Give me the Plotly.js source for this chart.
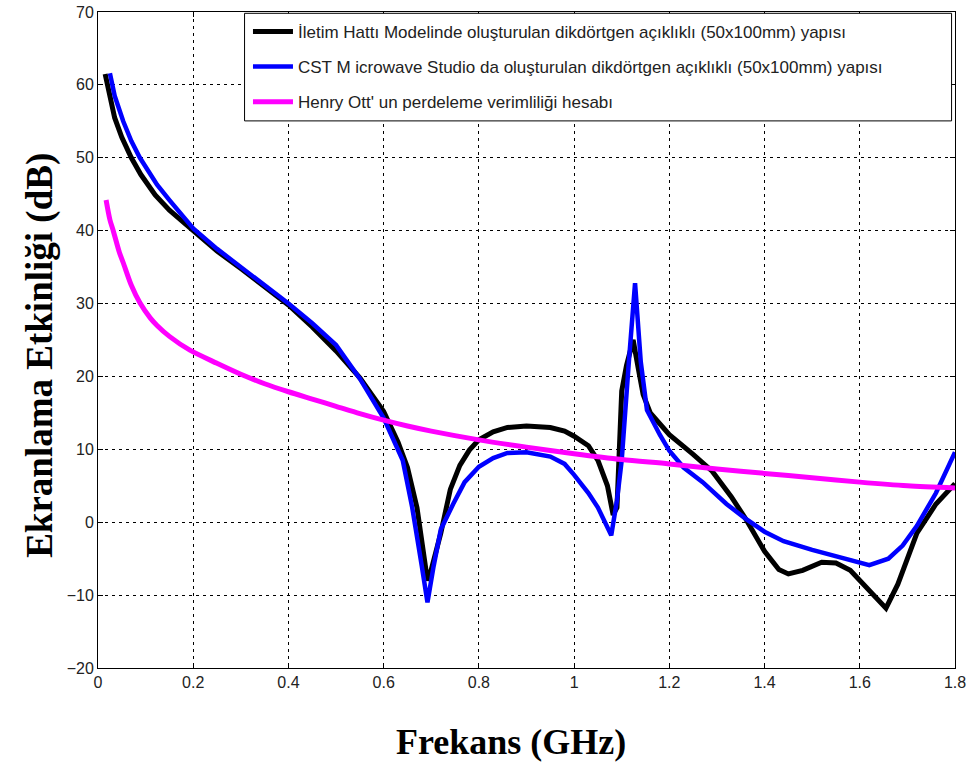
<!DOCTYPE html>
<html>
<head>
<meta charset="utf-8">
<script src="https://cdn.plot.ly/plotly-3.0.1.min.js"></script>
<style>html,body{margin:0;padding:0;background:#fff;}#chart{width:970px;height:769px;}</style>
</head>
<body>
<div id="chart"></div>
<script>
const seriesNames = [
  "İletim Hattı Modelinde oluşturulan dikdörtgen açıklıklı (50x100mm) yapısı",
  "CST M icrowave Studio da oluşturulan dikdörtgen açıklıklı (50x100mm) yapısı",
  "Henry Ott' un perdeleme verimliliği hesabı"
];

const blackX = [0.015,0.025,0.035,0.05,0.07,0.09,0.12,0.15,0.2,0.25,0.3,0.35,0.4,0.45,0.5,0.55,0.6,0.63,0.65,0.67,0.68,0.692,0.70,0.72,0.74,0.76,0.78,0.80,0.83,0.86,0.9,0.95,0.98,1.0,1.03,1.05,1.07,1.082,1.09,1.10,1.11,1.124,1.135,1.145,1.16,1.2,1.25,1.29,1.33,1.36,1.40,1.43,1.45,1.48,1.52,1.55,1.58,1.62,1.655,1.68,1.72,1.76,1.80];
const blackY = [61.5,58.5,55.5,52.8,50,47.7,44.9,42.8,40,37.2,34.8,32.3,29.8,26.8,23.5,19.8,15.2,11,7.5,2,-3,-8,-6.5,-1.5,4.5,7.8,9.9,11.3,12.4,13,13.2,13,12.5,11.8,10.5,8.5,5,1,2,18,21.5,25,21,17.5,15,12,9.3,7,3.5,0.5,-4,-6.5,-7.1,-6.6,-5.5,-5.6,-6.6,-9.5,-11.8,-8.5,-1.5,2.5,5.3];

const blueX = [0.025,0.035,0.053,0.07,0.088,0.11,0.124,0.15,0.2,0.25,0.3,0.35,0.4,0.45,0.5,0.55,0.6,0.64,0.66,0.68,0.692,0.705,0.72,0.746,0.77,0.80,0.83,0.86,0.9,0.95,0.98,1.0,1.03,1.05,1.065,1.078,1.09,1.10,1.115,1.128,1.14,1.153,1.18,1.2,1.23,1.27,1.32,1.36,1.40,1.44,1.5,1.56,1.62,1.66,1.69,1.72,1.76,1.8];
const blueY = [61.6,58.5,55,52.3,50,47.6,46.3,44.2,40.3,37.5,35,32.6,30,27.3,24.3,19.7,14.3,8.5,2,-6,-11,-6,-1,2.5,5.5,7.6,8.8,9.5,9.6,9,8,6.5,4,2,0,-1.8,3,8.5,22,32.8,22,15.4,12,9.8,7.5,5.5,2.5,0.5,-1.3,-2.6,-3.8,-4.9,-5.9,-5,-3.2,-0.5,4,9.6];

const ottX = [0.017,0.025,0.032,0.045,0.053,0.07,0.088,0.11,0.124,0.15,0.193,0.25,0.3,0.35,0.4,0.45,0.5,0.55,0.6,0.65,0.7,0.8,0.9,1.0,1.1,1.2,1.3,1.4,1.5,1.6,1.7,1.8];
const ottY = [44.2,41.5,40,37,35.6,32.5,30.1,28,27,25.5,23.6,21.8,20.3,19.0,17.9,16.9,15.9,14.9,14.0,13.2,12.5,11.3,10.3,9.4,8.6,8.0,7.3,6.7,6.1,5.5,5.0,4.7];

const xTicks = [0,0.2,0.4,0.6,0.8,1,1.2,1.4,1.6,1.8];
const xTickText = ["0","0.2","0.4","0.6","0.8","1","1.2","1.4","1.6","1.8"];
const yTicks = [-20,-10,0,10,20,30,40,50,60,70];

const tickFont = {family: "'Liberation Sans Narrow', 'Liberation Sans', Arial, sans-serif", size: 16, color: "#222"};

const traces = [
  {x: blackX, y: blackY, name: seriesNames[0], legendgroup: "a", mode: "lines", line: {color: "#000000", width: 5}},
  {x: blueX, y: blueY, name: seriesNames[1], legendgroup: "b", mode: "lines", line: {color: "#0000ff", width: 4.5}},
  {x: ottX, y: ottY, name: seriesNames[2], legendgroup: "c", mode: "lines", line: {color: "#ff00ff", width: 5, shape: "spline", smoothing: 0.8}}
];

const axisCommon = {
  showline: true, linecolor: "#000", linewidth: 1, mirror: "ticks",
  ticks: "inside", ticklen: 5, tickcolor: "#000",
  showgrid: true, gridcolor: "#000", gridwidth: 1, griddash: "3px,4px",
  zeroline: false, tickfont: tickFont
};

const layout = {
  width: 970, height: 769,
  margin: {l: 98, r: 15, t: 12, b: 101},
  paper_bgcolor: "#fff", plot_bgcolor: "#fff",
  showlegend: true,
  xaxis: Object.assign({}, axisCommon, {range: [0, 1.8], tickvals: xTicks, ticktext: xTickText}),
  yaxis: Object.assign({}, axisCommon, {range: [-20, 70], tickvals: yTicks}),
  legend: {
    x: 0.175, y: 0.997, xanchor: "left", yanchor: "top",
    bgcolor: "rgba(0,0,0,0)", borderwidth: 0,
    itemwidth: 40, traceorder: "grouped", tracegroupgap: 10,
    font: {family: "'Liberation Sans Narrow', 'Liberation Sans', Arial, sans-serif", size: 17, color: "#222"}
  },
  shapes: [
    {type: "rect", xref: "paper", yref: "paper", x0: 0.171, x1: 0.996, y0: 0.834, y1: 0.998,
     fillcolor: "#fff", line: {color: "#000", width: 1}, layer: "above"}
  ],
  annotations: [
    {text: "Frekans (GHz)", xref: "paper", yref: "paper", x: 0.482, y: -0.113, xanchor: "center", yanchor: "middle",
     showarrow: false, font: {family: "'Liberation Serif', 'Times New Roman', serif", size: 36, color: "#000", weight: "bold"}},
    {text: "Ekranlama Etkinliği (dB)", xref: "paper", y: 0.477, yref: "paper", x: -0.068, xanchor: "center", yanchor: "middle",
     textangle: -90, showarrow: false, font: {family: "'Liberation Serif', 'Times New Roman', serif", size: 37, color: "#000", weight: "bold"}}
  ]
};

Plotly.newPlot("chart", traces, layout, {displayModeBar: false, staticPlot: true});
</script>
</body>
</html>
